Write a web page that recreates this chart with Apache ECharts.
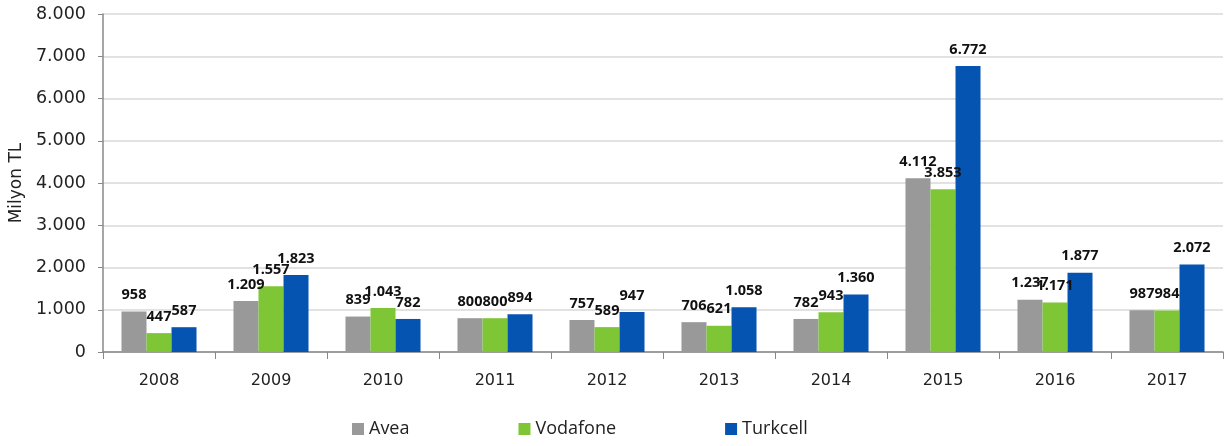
<!DOCTYPE html>
<html><head><meta charset="utf-8">
<script src="https://cdn.jsdelivr.net/npm/echarts@6/dist/echarts.min.js"></script>
<style>html,body{margin:0;padding:0;background:#fff}#c{width:1229px;height:446px}</style>
</head><body><div id="c"></div>
<script>
const years = ['2008','2009','2010','2011','2012','2013','2014','2015','2016','2017'];
const avea = [958,1209,839,800,757,706,782,4112,1237,987];
const vodafone = [447,1557,1043,800,589,621,943,3853,1171,984];
const turkcell = [587,1823,782,894,947,1058,1360,6772,1877,2072];
const yTicks = [0,1000,2000,3000,4000,5000,6000,7000,8000];

function fmt(v){return String(v).replace(/\B(?=(\d{3})+(?!\d))/g,'.');}
const chart = echarts.init(document.getElementById('c'));
const lbl = {show:true,position:'top',distance:9,color:'#111',fontWeight:'bold',fontSize:14.5,fontFamily:'Open Sans',formatter:p=>fmt(p.value)};
function s(name,data,color){return {name,type:'bar',data,barGap:'0%',barCategoryGap:'33%',itemStyle:{color},label:lbl};}
chart.setOption({
  animation:false,
  grid:{left:101,right:6,top:14,bottom:94},
  legend:{bottom:3,left:347,itemGap:109,itemWidth:12,itemHeight:12,icon:'rect',
    textStyle:{fontSize:18,fontFamily:'Open Sans',color:'#222'},data:['Avea','Vodafone','Turkcell']},
  xAxis:{type:'category',data:years,
    axisLine:{lineStyle:{color:'#888',width:1.5}},
    axisTick:{show:true,length:7,lineStyle:{color:'#888'}},
    axisLabel:{fontSize:16,fontFamily:'DejaVu Sans',color:'#222',margin:21}},
  yAxis:{type:'value',min:0,max:8000,interval:1000,
    name:'Milyon TL',nameLocation:'middle',nameGap:72,nameRotate:90,
    nameTextStyle:{fontSize:17,fontFamily:'DejaVu Sans',color:'#222'},
    axisLine:{show:true,lineStyle:{color:'#888',width:1.5}},
    axisTick:{show:true,length:5,lineStyle:{color:'#888'}},
    splitLine:{lineStyle:{color:'#d9d9d9',width:1.5}},
    axisLabel:{fontSize:17.5,fontFamily:'DejaVu Sans',color:'#222',margin:17,formatter:v=>fmt(v)}},
  series:[s('Avea',avea,'#999999'),s('Vodafone',vodafone,'#7ec636'),s('Turkcell',turkcell,'#0654b2')]
});
</script></body></html>
